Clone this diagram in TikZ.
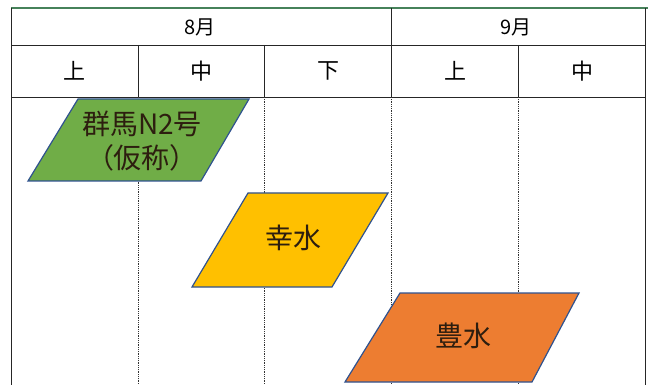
\documentclass[tikz,border=0pt]{standalone}
\usepackage{fontspec}
\newfontfamily\jpfont{Noto Sans CJK JP}
\definecolor{topgreen}{RGB}{70,130,90}
\definecolor{kgreen}{RGB}{112,173,71}
\definecolor{kyellow}{RGB}{255,192,0}
\definecolor{korange}{RGB}{237,125,49}
\definecolor{kborder}{RGB}{47,82,143}
\definecolor{ktext}{RGB}{45,30,15}
\tikzset{
	rule/.style={draw=black!85,line width=0.9pt},
	guide/.style={draw=black!80,densely dotted,line width=0.8pt},
	month/.style={font=\jpfont\fontsize{20}{22}\selectfont},
	term/.style={font=\jpfont\fontsize{22}{24}\selectfont},
	variety/.style={draw=kborder,line width=1.2pt},
	vlabel/.style={text=ktext,align=center,font=\jpfont\fontsize{28}{34}\selectfont}
}

\begin{document}
\begin{tikzpicture}[x=1pt,y=-1pt]
	\useasboundingbox (0,0) rectangle (651,385);
	% table
	\draw[topgreen,line width=1.2pt](11,8)--(648,8);
	\draw[rule](11,8)--(11,385);
	\draw[rule](645,8)--(645,385);
	\draw[rule](391,8)--(391,97);
	\draw[rule](11,45)--(645,45);
	\draw[rule](11,97)--(645,97);
	\draw[rule](138,45)--(138,97);
	\draw[rule](264,45)--(264,97);
	\draw[rule](518,45)--(518,97);
	\draw[guide](138,97)--(138,385);
	\draw[guide](264,97)--(264,385);
	\draw[guide](391,97)--(391,385);
	\draw[guide](518,97)--(518,385);
	\node[month] (aug) at (200,27) {8月};
	\node[month] (sep) at (516,27) {9月};
	\node[term] (aug1) at (74,71) {上};
	\node[term] (aug2) at (201,71) {中};
	\node[term] (aug3) at (328,71) {下};
	\node[term] (sep1) at (455,71) {上};
	\node[term] (sep2) at (582,71) {中};
	% varieties
	\draw[variety,fill=kgreen](78,99)--(249,99)--(201,181)--(28,181)--cycle;
	\draw[variety,fill=kyellow](248,193)--(388,193)--(332,287)--(192,287)--cycle;
	\draw[variety,fill=korange](400,293)--(579,293)--(532,382)--(345,382)--cycle;
	\node[vlabel] (gunma) at (142,141) {群馬N2号\\（仮称）};
	\node[vlabel] (kosui) at (293,238) {幸水};
	\node[vlabel] (hosui) at (463,336) {豊水};
\end{tikzpicture}
\end{document}
